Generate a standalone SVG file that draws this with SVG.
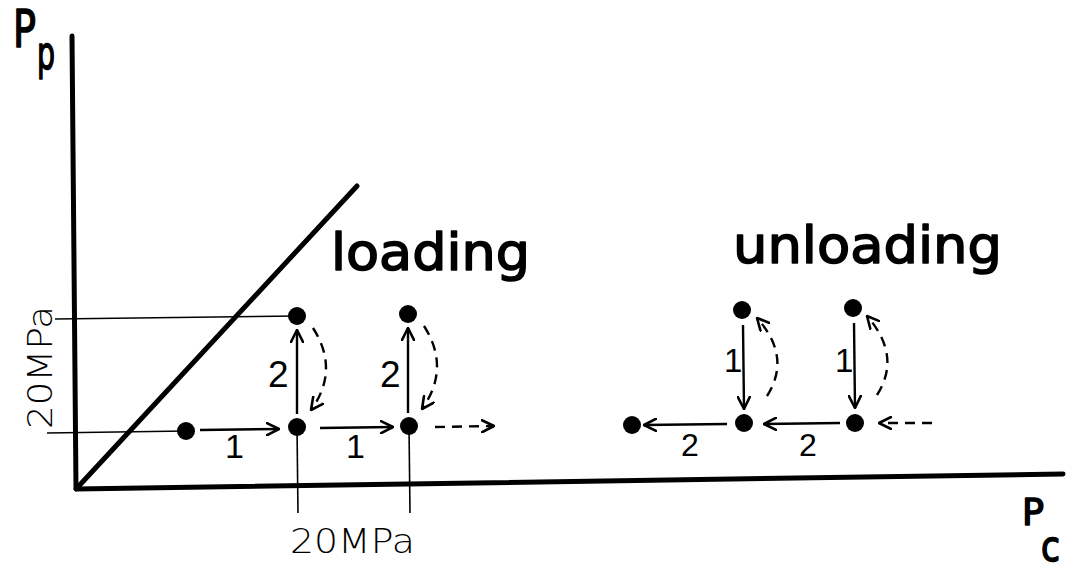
<svg xmlns="http://www.w3.org/2000/svg" width="1067" height="571" viewBox="0 0 1067 571">
<style>
.ax{stroke:#000;stroke-width:5;fill:none;stroke-linecap:round}
.thin{stroke:#000;stroke-width:1.6;fill:none}
.con{stroke:#000;stroke-width:2.4;fill:none}
.dash{stroke:#000;stroke-width:2.4;fill:none;stroke-dasharray:10 7}
.dot{fill:#000}
.big{font-family:"DejaVu Sans",sans-serif;fill:#000;stroke:#000;stroke-width:1.6;stroke-linejoin:round}
.lab{font-family:"DejaVu Sans",sans-serif;fill:#000}
.num{font-family:"Liberation Sans",sans-serif;fill:#000}
</style>
<defs>
<marker id="ah" viewBox="0 0 14 14" refX="13" refY="7" markerWidth="14" markerHeight="14" markerUnits="userSpaceOnUse" orient="auto">
<path d="M1,1 L13,7 L1,13" fill="none" stroke="#000" stroke-width="2.6" stroke-linecap="round" stroke-linejoin="round"/>
</marker>
</defs>
<g id="axes">
<line class="ax" x1="72" y1="36" x2="76" y2="489"/>
<line class="ax" x1="76" y1="489" x2="1063" y2="474"/>
<line class="ax" x1="77" y1="488" x2="357" y2="186"/>
<text class="big" x="13" y="47" font-size="52" textLength="23" lengthAdjust="spacingAndGlyphs">P</text>
<text class="big" x="37" y="69" font-size="46" textLength="18" lengthAdjust="spacingAndGlyphs">p</text>
<text class="big" x="1022" y="525" font-size="38" textLength="22" lengthAdjust="spacingAndGlyphs">P</text>
<text class="big" x="1041" y="561" font-size="42" textLength="19" lengthAdjust="spacingAndGlyphs">c</text>
<text class="lab" x="290" y="553" font-size="33" textLength="125" lengthAdjust="spacingAndGlyphs" font-weight="300">20MPa</text>
<text class="lab" transform="translate(52,429) rotate(-90)" x="0" y="0" font-size="34" textLength="123" lengthAdjust="spacingAndGlyphs" font-weight="300">20MPa</text>
<line class="thin" x1="55" y1="319" x2="297" y2="316"/>
<line class="thin" x1="47" y1="433" x2="186" y2="431"/>
<line class="thin" x1="297" y1="427" x2="298" y2="513"/>
<line class="thin" x1="409" y1="426" x2="410" y2="513"/>
</g>
<g id="titles">
<text class="big" x="331" y="270" font-size="52" textLength="199" lengthAdjust="spacingAndGlyphs">loading</text>
<text class="big" x="733" y="263" font-size="52" textLength="269" lengthAdjust="spacingAndGlyphs">unloading</text>
</g>
<g id="nodes">
<circle id="L0" class="dot" cx="186" cy="431" r="9"/>
<circle id="L1" class="dot" cx="297" cy="427" r="9"/>
<circle id="L2" class="dot" cx="409" cy="426" r="9"/>
<circle id="L1t" class="dot" cx="297" cy="316" r="9"/>
<circle id="L2t" class="dot" cx="408" cy="314" r="9"/>
<circle id="U0" class="dot" cx="632" cy="425" r="9"/>
<circle id="U1" class="dot" cx="744" cy="423" r="9"/>
<circle id="U2" class="dot" cx="855" cy="423" r="9"/>
<circle id="U1t" class="dot" cx="742" cy="310" r="9"/>
<circle id="U2t" class="dot" cx="853" cy="308" r="9"/>
</g>
<g id="connectors">
<line class="con" x1="200" y1="430" x2="279" y2="429" marker-end="url(#ah)"/>
<line class="con" x1="320" y1="428" x2="393" y2="427" marker-end="url(#ah)"/>
<line class="dash" x1="435" y1="427" x2="494" y2="426" marker-end="url(#ah)"/>
<line class="con" x1="297" y1="414" x2="297" y2="330" marker-end="url(#ah)"/>
<line class="con" x1="408" y1="413" x2="408" y2="328" marker-end="url(#ah)"/>
<path class="dash" d="M313,328 Q340,370 311,410" marker-end="url(#ah)"/>
<path class="dash" d="M424,326 Q451,368 422,409" marker-end="url(#ah)"/>
<line class="con" x1="743" y1="325" x2="744" y2="409" marker-end="url(#ah)"/>
<line class="con" x1="854" y1="323" x2="855" y2="408" marker-end="url(#ah)"/>
<line class="con" x1="727" y1="424" x2="644" y2="425" marker-end="url(#ah)"/>
<line class="con" x1="840" y1="423" x2="764" y2="424" marker-end="url(#ah)"/>
<line class="dash" x1="932" y1="423" x2="879" y2="423" marker-end="url(#ah)"/>
<path class="dash" d="M767,396 Q792,357 757,318" marker-end="url(#ah)"/>
<path class="dash" d="M877,395 Q902,356 867,316" marker-end="url(#ah)"/>
</g>
<g id="labels">
<text class="num" x="225" y="458" font-size="34">1</text>
<text class="num" x="346" y="458" font-size="34">1</text>
<text class="num" x="268" y="387" font-size="37">2</text>
<text class="num" x="380" y="387" font-size="37">2</text>
<text class="num" x="724" y="372" font-size="33">1</text>
<text class="num" x="835" y="372" font-size="33">1</text>
<text class="num" x="681" y="456" font-size="32">2</text>
<text class="num" x="799" y="456" font-size="32">2</text>
</g>
</svg>
